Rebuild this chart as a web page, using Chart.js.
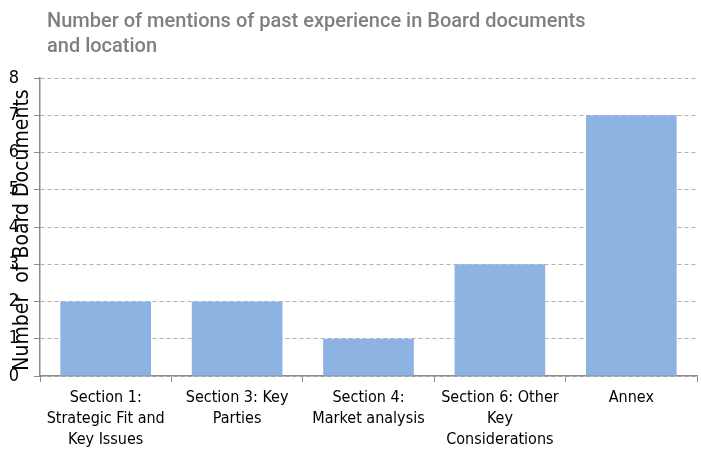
<!DOCTYPE html>
<html>
<head>
<meta charset="utf-8">
<script src="https://cdn.jsdelivr.net/npm/chart.js@4"></script>
<style>
  body { margin: 0; background: #fff; }
  #myChart { display: block; }
</style>
</head>
<body>
<canvas id="myChart" width="701" height="450"></canvas>
<script>
const sections = [
  ['Section 1:', 'Strategic Fit and', 'Key Issues'],
  ['Section 3: Key', 'Parties'],
  ['Section 4:', 'Market analysis'],
  ['Section 6: Other', 'Key', 'Considerations'],
  ['Annex']
];
const mentions = [2, 2, 1, 3, 7];
const titleLines = ['Number of mentions of past experience in Board documents', 'and location'];
const yTitle = 'Number  of Board Documents';

const fontName = '"DejaVu Sans Condensed", "Liberation Sans Narrow", sans-serif';

// title and the y title are drawn by hand, the y title sits on top of the ticks like in the original
const textPlugin = {
  id: 'texts',
  afterDraw(chart) {
    const ctx = chart.ctx;
    const area = chart.chartArea;
    ctx.save();
    ctx.fillStyle = '#808080';
    ctx.font = '500 20px Roboto, sans-serif';
    ctx.textBaseline = 'alphabetic';
    ctx.textAlign = 'left';
    ctx.fillText(titleLines[0], 47, 27);
    ctx.fillText(titleLines[1], 47, 52);

    ctx.translate(23, (area.top + area.bottom) / 2 + 3);
    ctx.rotate(-Math.PI / 2);
    ctx.fillStyle = '#000';
    ctx.font = '21px ' + fontName;
    ctx.textAlign = 'center';
    ctx.textBaseline = 'middle';
    ctx.fillText(yTitle, 0, 0);
    ctx.restore();
  }
};

const data = {
  labels: sections,
  datasets: [{
    label: 'Mentions',
    data: mentions,
    backgroundColor: '#8db3e2',
    borderWidth: 0,
    categoryPercentage: 0.69,
    barPercentage: 1
  }]
};

const config = {
  type: 'bar',
  data,
  options: {
    responsive: false,
    animation: false,
    layout: { padding: { top: 78, left: 0, right: 4, bottom: 0 } },
    plugins: {
      legend: { display: false },
      title: { display: false },
      tooltip: { enabled: false }
    },
    scales: {
      x: {
        afterFit(scale) { scale.height = 74; },
        grid: {
          display: true,
          drawOnChartArea: false,
          offset: true,
          color: '#8c8c8c',
          tickLength: 6
        },
        border: { color: '#8c8c8c', width: 1.5 },
        ticks: {
          color: '#000',
          font: { family: fontName, size: 16, lineHeight: 1.33 },
          maxRotation: 0,
          autoSkip: false,
          padding: 5
        }
      },
      y: {
        min: 0,
        max: 8,
        afterFit(scale) { scale.width = 40; },
        grid: {
          color: '#b0b0b0',
          tickColor: '#8c8c8c',
          tickLength: 6
        },
        border: { color: '#8c8c8c', width: 1.5, dash: [4, 3] },
        ticks: {
          stepSize: 1,
          color: '#000',
          padding: 15,
          font: { family: fontName, size: 18 }
        }
      }
    }
  },
  plugins: [textPlugin]
};

const myChart = new Chart(document.getElementById('myChart'), config);
</script>
</body>
</html>
